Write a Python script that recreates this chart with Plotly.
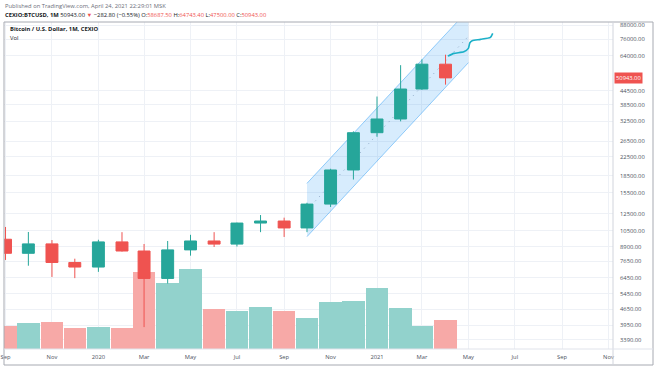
import math
import plotly.graph_objects as go

# ---------------- data ----------------
months = ["2019-09-01", "2019-10-01", "2019-11-01", "2019-12-01",
          "2020-01-01", "2020-02-01", "2020-03-01", "2020-04-01",
          "2020-05-01", "2020-06-01", "2020-07-01", "2020-08-01",
          "2020-09-01", "2020-10-01", "2020-11-01", "2020-12-01",
          "2021-01-01", "2021-02-01", "2021-03-01", "2021-04-01"]
opens = [9600, 8300, 9150, 7550, 7200, 9340, 8500, 6400, 8600, 9430,
         9130, 11350, 11590, 10790, 13810, 19650, 28900, 33300, 45400, 58687.5]
highs = [10900, 10350, 9520, 7850, 9550, 10330, 9140, 9430, 10050, 10330,
         11400, 12330, 12000, 14000, 19900, 29300, 42000, 58100, 61700, 64743.4]
lows = [7750, 7300, 6500, 6420, 6850, 8450, 3870, 6070, 8100, 8860,
        8900, 10330, 9830, 10330, 13400, 17800, 27700, 32500, 45000, 47500]
closes = [8300, 9150, 7550, 7200, 9340, 8500, 6400, 8600, 9430, 9130,
          11350, 11590, 10790, 13810, 19650, 28900, 33300, 45400, 58700, 50943]
volumes = [23, 26, 27, 21, 22, 21, 77, 66, 80, 40,
           38, 42, 38, 31, 47, 48, 61, 41, 23, 29]

# regression channel (drawn object)
channel_dates = ["2020-10-01", "2021-05-01"]
channel_lower = [9860, 59600]
channel_upper = [17120, 102900]
channel_mid = [12990, 78300]

# hand-drawn projection path
proj_dates = ["2021-04-04", "2021-04-12", "2021-04-25", "2021-05-01", "2021-05-03",
              "2021-05-06", "2021-05-17", "2021-05-30", "2021-06-02"]
proj_prices = [63800, 65650, 66750, 69150, 73280, 74800, 75860, 77500, 80740]

last_price = 50943.00

tick_prices = [88000, 76000, 64000, 44500, 38500, 32500, 26500, 22500, 18500,
               15500, 12500, 10500, 8900, 7650, 6450, 5450, 4650, 3950, 3390]
tick_dates = ["2019-09-01", "2019-11-01", "2020-01-01", "2020-03-01", "2020-05-01",
              "2020-07-01", "2020-09-01", "2020-11-01", "2021-01-01", "2021-03-01",
              "2021-05-01", "2021-07-01", "2021-09-01", "2021-11-01"]
tick_labels = ["Sep", "Nov", "2020", "Mar", "May", "Jul", "Sep", "Nov", "2021",
               "Mar", "May", "Jul", "Sep", "Nov"]

# ---------------- style ----------------
GREEN = "#26a69a"
RED = "#ef5350"
VOL_GREEN = "#92d2cc"
VOL_RED = "#f7a9a7"
GRID = "#eef1f6"
FRAME = "#a7aab2"
FONT = "Open Sans"
FS = 5.8

vol_colors = [VOL_GREEN if c >= o else VOL_RED for o, c in zip(opens, closes)]

fig = go.Figure()

# volume on main (bottom layer) axis
fig.add_trace(go.Bar(
    x=months, y=volumes, marker=dict(color=vol_colors, line=dict(width=0)),
    width=29.6 * 24 * 3600 * 1000, xaxis="x", yaxis="y", hoverinfo="skip",
    showlegend=False))

# regression channel on the price axis y2 (below the candles)
fig.add_trace(go.Scatter(
    x=channel_dates + channel_dates[::-1] + channel_dates[:1],
    y=channel_lower + channel_upper[::-1] + channel_lower[:1],
    fill="toself", fillcolor="rgba(33,150,243,0.18)", line=dict(width=0),
    mode="lines", yaxis="y2", showlegend=False, hoverinfo="skip"))
for ys in (channel_lower, channel_upper):
    fig.add_trace(go.Scatter(x=channel_dates, y=ys, mode="lines",
                             line=dict(color="rgba(33,150,243,0.45)", width=1),
                             yaxis="y2", showlegend=False, hoverinfo="skip"))
fig.add_trace(go.Scatter(x=channel_dates, y=channel_mid, mode="lines",
                         line=dict(color="rgba(90,120,160,0.6)", width=1, dash="1px,5px"),
                         yaxis="y2", showlegend=False, hoverinfo="skip"))

# candles on a twin price axis y3 (drawn above y2)
fig.add_trace(go.Candlestick(
    x=months, open=opens, high=highs, low=lows, close=closes,
    increasing=dict(line=dict(color=GREEN, width=1), fillcolor=GREEN),
    decreasing=dict(line=dict(color=RED, width=1), fillcolor=RED),
    yaxis="y3", showlegend=False, whiskerwidth=0))

# projection line
fig.add_trace(go.Scatter(x=proj_dates, y=proj_prices, mode="lines",
                         line=dict(color="#1cb0c8", width=1.6, shape="spline", smoothing=0.6),
                         yaxis="y3", showlegend=False, hoverinfo="skip"))

# ---------------- layout ----------------
W, H = 654, 366
ML, MR, MT, MB = 4, 41, 22, 17
pw, ph = W - ML - MR, H - MT - MB


def px_x(px):
    return (px - ML) / pw


def px_y(py):
    return (H - MB - py) / ph


ylo, yhi = math.log10(3085), math.log10(90800)

fig.update_layout(
    width=W, height=H,
    margin=dict(l=ML, r=MR, t=MT, b=MB, pad=0, autoexpand=False),
    paper_bgcolor="white", plot_bgcolor="white",
    font=dict(family=FONT, size=FS, color="#4c525e"),
    boxgap=0.2,
    bargap=0,
    xaxis=dict(type="date", range=["2019-08-30", "2021-11-07"],
               tickvals=tick_dates, ticktext=tick_labels, ticks="",
               showgrid=True, gridcolor=GRID, gridwidth=1,
               rangeslider=dict(visible=False), zeroline=False,
               tickfont=dict(size=FS, color="#4c525e"), ticklabelstandoff=3),
    yaxis=dict(range=[0, ph], visible=False, showgrid=False, zeroline=False),
    yaxis2=dict(type="log", range=[ylo, yhi], overlaying="y", side="right",
                tickvals=tick_prices, ticktext=[f"{v:.2f}" for v in tick_prices],
                ticks="", showgrid=True, gridcolor=GRID, gridwidth=1,
                zeroline=False, showline=False,
                tickfont=dict(size=FS, color="#4c525e"), ticklabelstandoff=6),
    yaxis3=dict(type="log", range=[ylo, yhi], overlaying="y", side="right",
                visible=False, showgrid=False, zeroline=False),
    hovermode=False,
)

L = math.log10
shapes = []
# last price line
shapes.append(dict(type="line", xref="paper", x0=0, x1=1, yref="y2",
                   y0=L(last_price), y1=L(last_price),
                   line=dict(color="rgba(239,83,80,0.35)", width=1), layer="below"))
# frame lines
right_edge = px_x(653)
bottom_edge = px_y(365)
shapes += [
    dict(type="line", xref="paper", yref="paper", x0=0, x1=right_edge, y0=1, y1=1,
         line=dict(color=FRAME, width=1)),
    dict(type="line", xref="paper", yref="paper", x0=0, x1=0, y0=bottom_edge, y1=1,
         line=dict(color=FRAME, width=1)),
    dict(type="line", xref="paper", yref="paper", x0=right_edge, x1=right_edge,
         y0=bottom_edge, y1=1, line=dict(color=FRAME, width=1)),
    dict(type="line", xref="paper", yref="paper", x0=0, x1=right_edge,
         y0=bottom_edge, y1=bottom_edge, line=dict(color=FRAME, width=1)),
    dict(type="line", xref="paper", yref="paper", x0=1, x1=1, y0=bottom_edge, y1=1,
         line=dict(color="#d1d4dc", width=1)),
    dict(type="line", xref="paper", yref="paper", x0=0, x1=right_edge, y0=0, y1=0,
         line=dict(color="#e0e3eb", width=1)),
]
fig.update_layout(shapes=shapes)

header1 = "Published on TradingView.com, April 24, 2021 22:29:01 MSK"
header2 = ("<b>CEXIO:BTCUSD, 1M</b> 50943.00 <span style='color:#ef5350'>▼</span> "
           "−282.80 (−0.55%) O:<span style='color:#ef5350'>58687.50</span> "
           "H:<span style='color:#ef5350'>64743.40</span> "
           "L:<span style='color:#ef5350'>47500.00</span> "
           "C:<span style='color:#ef5350'>50943.00</span>")

annotations = [
    dict(text=header1, xref="paper", yref="paper", x=px_x(3), y=px_y(6),
         xanchor="left", yanchor="middle", showarrow=False,
         font=dict(size=FS, color="#6a6d78")),
    dict(text=header2, xref="paper", yref="paper", x=px_x(3), y=px_y(15),
         xanchor="left", yanchor="middle", showarrow=False,
         font=dict(size=FS, color="#131722")),
    dict(text="<b>Bitcoin / U.S. Dollar, 1M, CEXIO</b>", xref="paper", yref="paper",
         x=px_x(8), y=px_y(29), xanchor="left", yanchor="middle", showarrow=False,
         font=dict(size=FS, color="#131722")),
    dict(text="Vol", xref="paper", yref="paper", x=px_x(8), y=px_y(38),
         xanchor="left", yanchor="middle", showarrow=False,
         font=dict(size=FS, color="#131722")),
    dict(text="50943.00", xref="paper", yref="y2", x=1.002, y=L(last_price),
         xanchor="left", yanchor="middle", showarrow=False,
         bgcolor=RED, borderpad=1, font=dict(size=FS, color="white")),
]
fig.update_layout(annotations=annotations)

fig.write_html("out.html", config={"displayModeBar": False},
               post_script="document.body.style.margin='0';document.body.style.padding='0';")
